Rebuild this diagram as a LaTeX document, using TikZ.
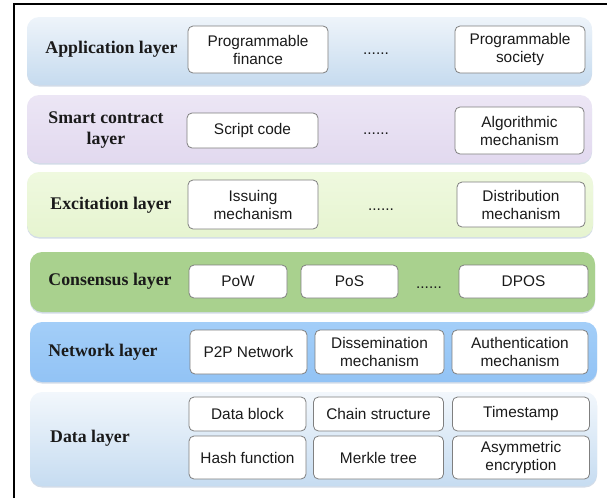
\documentclass[tikz,border=0pt]{standalone}
\usepackage{fontspec}
\setmainfont{Liberation Serif}
\setsansfont{Liberation Sans}
\definecolor{appT}{HTML}{EEF4FA}
\definecolor{appB}{HTML}{C6DBEF}
\definecolor{scT}{HTML}{ECE6F5}
\definecolor{scB}{HTML}{E2D9EF}
\definecolor{exT}{HTML}{EFF9DF}
\definecolor{exB}{HTML}{E6F4D0}
\definecolor{cons}{HTML}{A9D18E}
\definecolor{netT}{HTML}{A3CEF8}
\definecolor{netB}{HTML}{92C3F5}
\definecolor{daT}{HTML}{F2F7FC}
\definecolor{daB}{HTML}{C6DCF1}
\definecolor{shad}{HTML}{D3DCE8}
\definecolor{cellline}{HTML}{7F7F7F}
\definecolor{ink}{HTML}{1A1A1A}
\begin{document}
\begin{tikzpicture}[x=1pt,y=-1pt,
  layer/.style={draw=none,rounded corners=12pt,inner sep=0pt},
  shadowbox/.style={fill=shad,draw=none,rounded corners=12pt,inner sep=0pt},
  cell/.style={draw=cellline,line width=0.8pt,fill=white,rounded corners=5pt,
    inner sep=0pt,align=center,text=ink,font=\sffamily\fontsize{15.4}{18}\selectfont},
  lab/.style={align=center,text=ink,font=\bfseries\fontsize{17.8}{21}\selectfont},
  dotsnode/.style={anchor=base,inner sep=0pt,text=ink,font=\sffamily\fontsize{15.4}{18}\selectfont}]
\useasboundingbox (0,0) rectangle (607,498);
% frame
\draw[line width=2.6pt] (14,498) -- (14,4) -- (607,4);
% shadows
\foreach \cx/\cy/\w/\h in {309.5/52.5/565/68, 309.5/130.5/565/68, 310/206/566/65, 312.5/283.5/565/60, 313.5/353.5/567/60, 313.5/440.5/567/94}
  \node[shadowbox,minimum width=\w,minimum height=\h] at (\cx,\cy) {};
% layers
\node[layer,top color=appT,bottom color=appB,minimum width=565,minimum height=68] (app) at (309.5,51) {};
\node[layer,top color=scT,bottom color=scB,minimum width=565,minimum height=68] (smart) at (309.5,129) {};
\node[layer,top color=exT,bottom color=exB,minimum width=566,minimum height=65] (exc) at (310,204.5) {};
\node[layer,fill=cons,minimum width=565,minimum height=60] (cons) at (312.5,282) {};
\node[layer,top color=netT,bottom color=netB,minimum width=567,minimum height=60] (net) at (313.5,352) {};
\node[layer,top color=daT,bottom color=daB,minimum width=567,minimum height=94] (data) at (313.5,439) {};
% layer labels
\node[lab] (lapp) at (111.5,49) {Application layer};
\node[lab] (lsmart) at (106,130) {Smart contract\\layer};
\node[lab] (lexc) at (111,205) {Excitation layer};
\node[lab] (lcons) at (110,281) {Consensus layer};
\node[lab] (lnet) at (103,352) {Network layer};
\node[lab] (ldata) at (90,438) {Data layer};
% application
\node[cell,minimum width=140,minimum height=47] (pf) at (258,49.5) {Programmable\\finance};
\node[dotsnode] (d1) at (376,54) {......};
\node[cell,minimum width=130,minimum height=47] (ps) at (520,49.5) {Programmable\\society};
% smart contract
\node[cell,minimum width=131,minimum height=35] (sc) at (252.5,130.5) {Script code};
\node[dotsnode] (d2) at (376,134) {......};
\node[cell,minimum width=129,minimum height=47] (am) at (519.5,130.5) {Algorithmic\\mechanism};
% excitation
\node[cell,minimum width=130,minimum height=49] (im) at (253,204.5) {Issuing\\mechanism};
\node[dotsnode] (d3) at (381,210) {......};
\node[cell,minimum width=128,minimum height=45] (dm) at (521,204.5) {Distribution\\mechanism};
% consensus
\node[cell,minimum width=98,minimum height=33] (pow) at (238,281.5) {PoW};
\node[cell,minimum width=97,minimum height=33] (pos) at (349.5,281.5) {PoS};
\node[dotsnode] (d4) at (429,288) {......};
\node[cell,minimum width=129,minimum height=33] (dpos) at (523.5,281.5) {DPOS};
% network
\node[cell,minimum width=117,minimum height=44] (p2p) at (248.5,352) {P2P Network};
\node[cell,minimum width=129,minimum height=44] (dis) at (379.5,352) {Dissemination\\mechanism};
\node[cell,minimum width=136,minimum height=44] (auth) at (520,352) {Authentication\\mechanism};
% data
\node[cell,minimum width=117,minimum height=34] (db) at (247.5,414) {Data block};
\node[cell,minimum width=130,minimum height=34] (cs) at (378.5,414) {Chain structure};
\node[cell,minimum width=137,minimum height=34] (ts) at (521,414) {Timestamp};
\node[cell,minimum width=117,minimum height=43] (hf) at (247.5,457.5) {Hash function};
\node[cell,minimum width=130,minimum height=43] (mt) at (378.5,457.5) {Merkle tree};
\node[cell,minimum width=137,minimum height=43] (ae) at (521,457.5) {Asymmetric\\encryption};
\end{tikzpicture}
\end{document}
